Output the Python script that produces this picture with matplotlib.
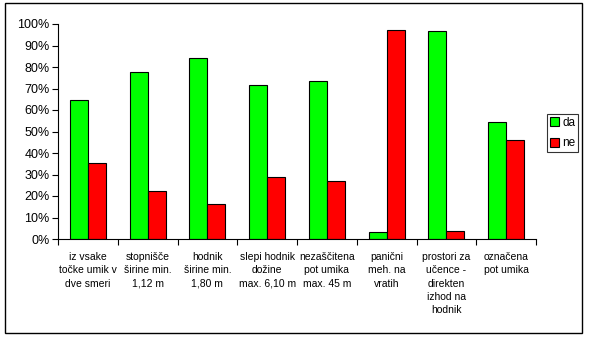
import numpy as np
import matplotlib.pyplot as plt
from matplotlib.patches import Rectangle
from matplotlib.ticker import PercentFormatter

plt.rcParams['font.family'] = ['Liberation Sans', 'DejaVu Sans']

kategorije = [
    'iz vsake\ntočke umik v\ndve smeri',
    'stopnišče\nširine min.\n1,12 m',
    'hodnik\nširine min.\n1,80 m',
    'slepi hodnik\ndožine\nmax. 6,10 m',
    'nezaščitena\npot umika\nmax. 45 m',
    'panični\nmeh. na\nvratih',
    'prostori za\nučence -\ndirekten\nizhod na\nhodnik',
    'označena\npot umika',
]
da = [64.7, 77.7, 84.0, 71.5, 73.5, 3.1, 96.6, 54.3]
ne = [35.2, 22.2, 16.1, 28.7, 26.8, 97.0, 3.6, 45.9]

fig = plt.figure(figsize=(5.9, 3.4), dpi=100)
ax = fig.add_axes([58 / 590, 1 - 239 / 340, 478 / 590, 215 / 340])

x = np.arange(len(kategorije))
w = 0.3
ax.bar(x - w / 2, da, w, color='#00ff00', edgecolor='black', linewidth=0.8, label='da')
ax.bar(x + w / 2, ne, w, color='#ff0000', edgecolor='black', linewidth=0.8, label='ne')

ax.set_xlim(-0.5, len(kategorije) - 0.5)
ax.set_ylim(0, 100)
ax.set_yticks(np.arange(0, 101, 10))
ax.yaxis.set_major_formatter(PercentFormatter(decimals=0))
ax.tick_params(axis='y', labelsize=9, length=4, width=0.8, direction='out', pad=2)

# ticks between categories, labels under the middle of each group
ax.set_xticks(np.arange(len(kategorije) + 1) - 0.5)
ax.set_xticklabels([])
ax.tick_params(axis='x', length=4, width=0.8, direction='out')
for i, k in enumerate(kategorije):
    ax.text(i, -6, k, ha='center', va='top', fontsize=7.5, linespacing=1.42,
            transform=ax.transData)

for s in ['top', 'right']:
    ax.spines[s].set_visible(False)
for s in ['left', 'bottom']:
    ax.spines[s].set_linewidth(0.8)

leg = ax.legend(loc='center left', bbox_to_anchor=(547 / 590, 1 - 133 / 340),
                bbox_transform=fig.transFigure, fontsize=8.5, frameon=True,
                fancybox=False, edgecolor='black', handlelength=0.8,
                handleheight=0.8, handletextpad=0.25, borderpad=0.25,
                labelspacing=0.75, borderaxespad=0)
leg.get_frame().set_linewidth(0.8)

fig.patches.append(Rectangle((5 / 590, 1 - 333 / 340), 577 / 590, 330 / 340,
                             transform=fig.transFigure, fill=False,
                             edgecolor='black', linewidth=1))

fig.savefig('out.png', dpi=100)
